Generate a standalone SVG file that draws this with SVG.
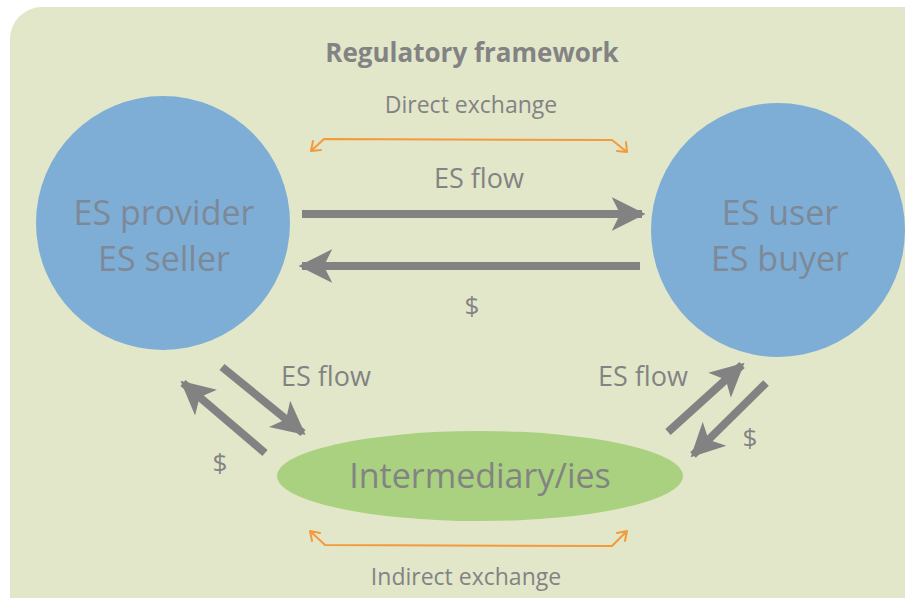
<svg xmlns="http://www.w3.org/2000/svg" width="905" height="598" viewBox="0 0 905 598">
<style>
.t{font-family:"Open Sans","Liberation Sans",sans-serif;fill:#838383;text-anchor:middle}
.c{font-family:"Open Sans","Liberation Sans",sans-serif;fill:#7d8996;text-anchor:middle;font-size:34px}
.g{stroke:#828282;stroke-width:8;fill:none}
.o{stroke:#f39a3a;stroke-width:2;fill:none;stroke-linecap:round;stroke-linejoin:round}
</style>
<defs>
<marker id="ah" viewBox="0 0 10 10" refX="9" refY="5" markerWidth="4.2" markerHeight="4.4" orient="auto" markerUnits="strokeWidth">
<path d="M0,0 L10,5 L0,10 L2.5,5 Z" fill="#828282"/>
</marker>
</defs>
<rect x="0" y="0" width="905" height="598" fill="#ffffff"/>
<rect x="10" y="7" width="930" height="640" rx="32" fill="#e2e7ca"/>
<text class="t" x="472" y="62" font-size="26" font-weight="bold">Regulatory framework</text>
<text class="t" x="471" y="113" font-size="23">Direct exchange</text>
<text class="t" x="466" y="585" font-size="23">Indirect exchange</text>
<g id="provider">
<circle cx="163" cy="223" r="127" fill="#7eaed6"/>
<text class="c" x="164" y="225">ES provider</text>
<text class="c" x="164" y="271">ES seller</text>
</g>
<g id="user">
<circle cx="778" cy="230" r="127" fill="#7eaed6"/>
<text class="c" x="780" y="225">ES user</text>
<text class="c" x="780" y="271">ES buyer</text>
</g>
<g id="intermediary">
<ellipse cx="480" cy="476" rx="203" ry="45" fill="#a9d17f"/>
<text class="t" x="480" y="488" font-size="34">Intermediary/ies</text>
</g>
<g id="connectors">
<line class="g" x1="302" y1="214" x2="642" y2="214" marker-end="url(#ah)"/>
<line class="g" x1="640" y1="266" x2="302" y2="266" marker-end="url(#ah)"/>
<line class="g" x1="222" y1="367" x2="303" y2="433" marker-end="url(#ah)"/>
<line class="g" x1="265" y1="453" x2="183" y2="383" marker-end="url(#ah)"/>
<line class="g" x1="668" y1="432" x2="742" y2="365" marker-end="url(#ah)"/>
<line class="g" x1="766" y1="383" x2="693" y2="455" marker-end="url(#ah)"/>
<path class="o" d="M311,151 L324,139 L612,140 L627,152 M311,151 L321,150 M311,151 L313,141 M627,152 L617,151 M627,152 L626,142"/>
<path class="o" d="M310,531 L325,545 L612,546 L627,531 M310,531 L320,533 M310,531 L312,541 M627,531 L617,533 M627,531 L625,541"/>
</g>
<text class="t" x="479" y="188" font-size="27">ES flow</text>
<text class="t" x="472" y="315" font-size="26">$</text>
<text class="t" x="326" y="386" font-size="27">ES flow</text>
<text class="t" x="643" y="386" font-size="27">ES flow</text>
<text class="t" x="220" y="472" font-size="26">$</text>
<text class="t" x="750" y="447" font-size="26">$</text>
</svg>
